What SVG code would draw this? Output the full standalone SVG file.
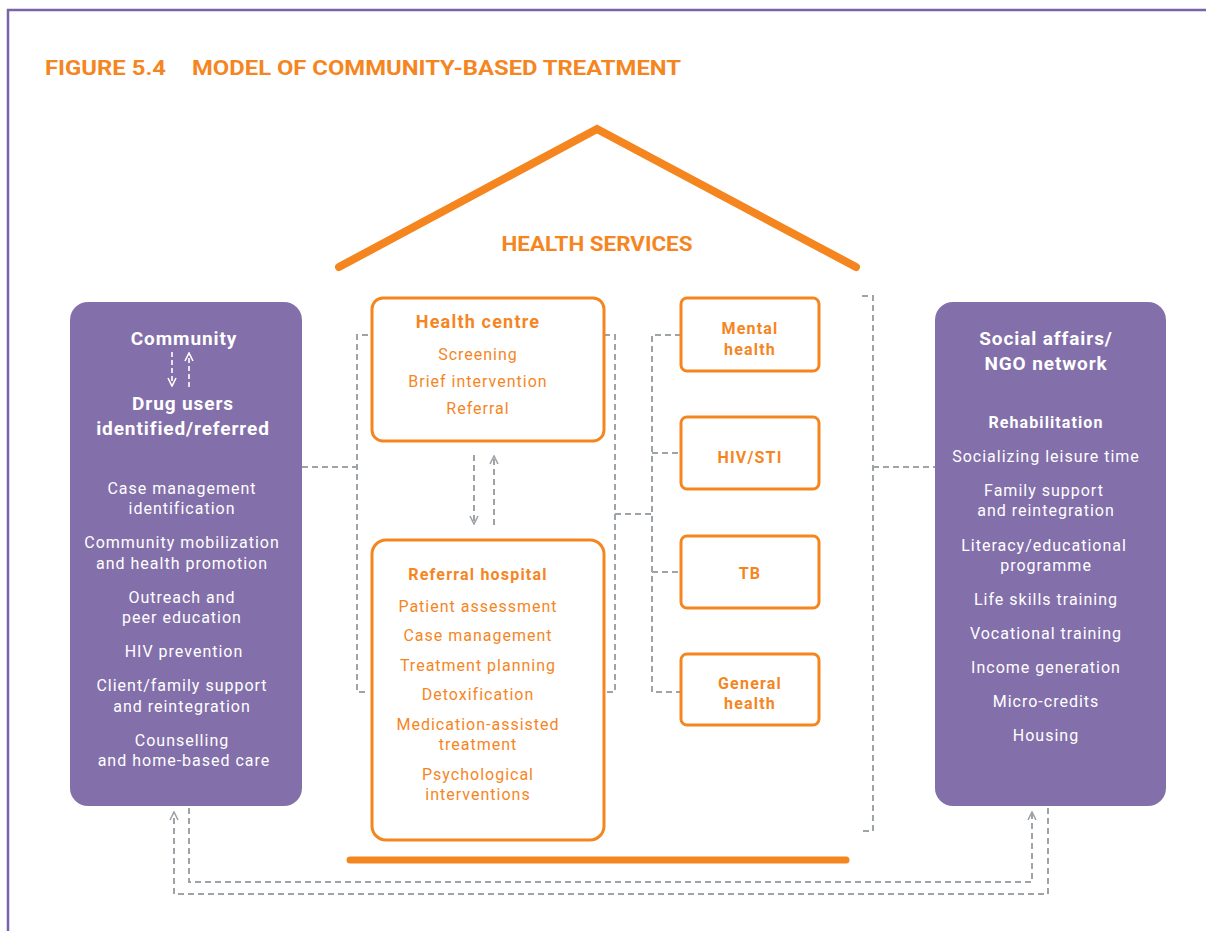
<svg xmlns="http://www.w3.org/2000/svg" width="1206" height="931" viewBox="0 0 1206 931">
<defs>
<marker id="arr" viewBox="0 0 10 10" refX="9" refY="5" markerWidth="10" markerHeight="10" markerUnits="userSpaceOnUse" orient="auto">
<path d="M1,1 L9,5 L1,9" fill="none" stroke="#9EA3A7" stroke-width="1.6"/>
</marker>
<marker id="arrw" viewBox="0 0 10 10" refX="9" refY="5" markerWidth="10" markerHeight="10" markerUnits="userSpaceOnUse" orient="auto">
<path d="M1,1 L9,5 L1,9" fill="none" stroke="#ffffff" stroke-width="1.6"/>
</marker>
</defs>
<style>
text{font-family:Roboto,"Liberation Sans",sans-serif}
.title{font-size:21px;font-weight:bold;fill:#F5861F}
.hs{font-size:20px;font-weight:bold;fill:#F5861F;text-anchor:middle}
.pbox{fill:#836FAA}
.obox{fill:#fff;stroke:#F5861F;stroke-width:3}
.wh{font-size:19px;font-weight:bold;fill:#fff;text-anchor:middle;letter-spacing:0.9px}
.wb{font-size:16px;font-weight:bold;fill:#fff;text-anchor:middle;letter-spacing:1.1px}
.w{font-size:16px;fill:#fff;text-anchor:middle;letter-spacing:1px}
.oh{font-size:18px;font-weight:bold;fill:#F5861F;text-anchor:middle;letter-spacing:1.2px}
.ob{font-size:16px;font-weight:bold;fill:#F5861F;text-anchor:middle;letter-spacing:1.2px}
.o{font-size:16px;fill:#F5861F;text-anchor:middle;letter-spacing:1px}
.dash{fill:none;stroke:#9EA3A7;stroke-width:2;stroke-dasharray:6 4}
.wdash{fill:none;stroke:#fff;stroke-width:1.6;stroke-dasharray:5 3}
.roof{fill:none;stroke:#F5861F;stroke-width:8;stroke-linecap:round;stroke-linejoin:miter}
</style>
<rect width="1206" height="931" fill="#fff"/>
<path d="M8,931 L8,10 L1206,10" fill="none" stroke="#7A63A8" stroke-width="2.5"/>
<text class="title" x="45" y="75" textLength="121" lengthAdjust="spacingAndGlyphs">FIGURE 5.4</text>
<text class="title" x="192" y="75" textLength="489" lengthAdjust="spacingAndGlyphs">MODEL OF COMMUNITY-BASED TREATMENT</text>

<g id="house">
<polyline class="roof" points="339,267 597,129 856,267"/>
<text class="hs" x="597" y="251" textLength="191" lengthAdjust="spacingAndGlyphs">HEALTH SERVICES</text>
<line x1="350" y1="860" x2="846" y2="860" stroke="#F5861F" stroke-width="7" stroke-linecap="round"/>
</g>

<g id="connectors">
<path class="dash" d="M302,467 L357,467"/>
<path class="dash" d="M368,335 L357,335 L357,692 L368,692"/>
<path class="dash" d="M604,335 L615,335 L615,692 L604,692"/>
<path class="dash" d="M615,514 L652,514"/>
<path class="dash" d="M681,335 L652,335 L652,692 L681,692"/>
<path class="dash" d="M652,453 L681,453"/>
<path class="dash" d="M652,572 L681,572"/>
<path class="dash" d="M862,296 L873,296 L873,831 L862,831"/>
<path class="dash" d="M873,467 L935,467"/>
<path class="dash" d="M474,455 L474,524" marker-end="url(#arr)"/>
<path class="dash" d="M494,525 L494,456" marker-end="url(#arr)"/>
<path class="dash" d="M189,808 L189,882 L1032,882 L1032,812" marker-end="url(#arr)"/>
<path class="dash" d="M1048,808 L1048,894 L174,894 L174,812" marker-end="url(#arr)"/>
</g>

<g id="community">
<rect class="pbox" x="70" y="302" width="232" height="504" rx="18"/>
<text class="wh" x="184" y="345">Community</text>
<path class="wdash" d="M172,352 L172,386" marker-end="url(#arrw)"/>
<path class="wdash" d="M189,387 L189,353" marker-end="url(#arrw)"/>
<text class="wh" x="183" y="410">Drug users</text>
<text class="wh" x="183" y="435">identified/referred</text>
<text class="w" x="182" y="494">Case management</text>
<text class="w" x="182" y="514">identification</text>
<text class="w" x="182" y="548">Community mobilization</text>
<text class="w" x="182" y="569">and health promotion</text>
<text class="w" x="182" y="603">Outreach and</text>
<text class="w" x="182" y="623">peer education</text>
<text class="w" x="184" y="657">HIV prevention</text>
<text class="w" x="182" y="691">Client/family support</text>
<text class="w" x="182" y="712">and reintegration</text>
<text class="w" x="182" y="746">Counselling</text>
<text class="w" x="184" y="766">and home-based care</text>
</g>

<g id="health-centre">
<rect class="obox" x="372" y="298" width="232" height="143" rx="11"/>
<text class="oh" x="478" y="328">Health centre</text>
<text class="o" x="478" y="360">Screening</text>
<text class="o" x="478" y="387">Brief intervention</text>
<text class="o" x="478" y="414">Referral</text>
</g>

<g id="referral-hospital">
<rect class="obox" x="372" y="540" width="232" height="300" rx="14"/>
<text class="ob" x="478" y="580">Referral hospital</text>
<text class="o" x="478" y="612">Patient assessment</text>
<text class="o" x="478" y="641">Case management</text>
<text class="o" x="478" y="671">Treatment planning</text>
<text class="o" x="478" y="700">Detoxification</text>
<text class="o" x="478" y="730">Medication-assisted</text>
<text class="o" x="478" y="750">treatment</text>
<text class="o" x="478" y="780">Psychological</text>
<text class="o" x="478" y="800">interventions</text>
</g>

<g id="mental-health">
<rect class="obox" x="681" y="298" width="138" height="73" rx="6"/>
<text class="ob" x="750" y="334">Mental</text>
<text class="ob" x="750" y="355">health</text>
</g>
<g id="hiv-sti">
<rect class="obox" x="681" y="417" width="138" height="72" rx="6"/>
<text class="ob" x="750" y="463">HIV/STI</text>
</g>
<g id="tb">
<rect class="obox" x="681" y="536" width="138" height="72" rx="6"/>
<text class="ob" x="750" y="579">TB</text>
</g>
<g id="general-health">
<rect class="obox" x="681" y="654" width="138" height="71" rx="6"/>
<text class="ob" x="750" y="689">General</text>
<text class="ob" x="750" y="709">health</text>
</g>

<g id="social-affairs">
<rect class="pbox" x="935" y="302" width="231" height="504" rx="18"/>
<text class="wh" x="1046" y="345">Social affairs/</text>
<text class="wh" x="1046" y="370">NGO network</text>
<text class="wb" x="1046" y="428">Rehabilitation</text>
<text class="w" x="1046" y="462">Socializing leisure time</text>
<text class="w" x="1044" y="496">Family support</text>
<text class="w" x="1046" y="516">and reintegration</text>
<text class="w" x="1044" y="551">Literacy/educational</text>
<text class="w" x="1046" y="571">programme</text>
<text class="w" x="1046" y="605">Life skills training</text>
<text class="w" x="1046" y="639">Vocational training</text>
<text class="w" x="1046" y="673">Income generation</text>
<text class="w" x="1046" y="707">Micro-credits</text>
<text class="w" x="1046" y="741">Housing</text>
</g>
</svg>
